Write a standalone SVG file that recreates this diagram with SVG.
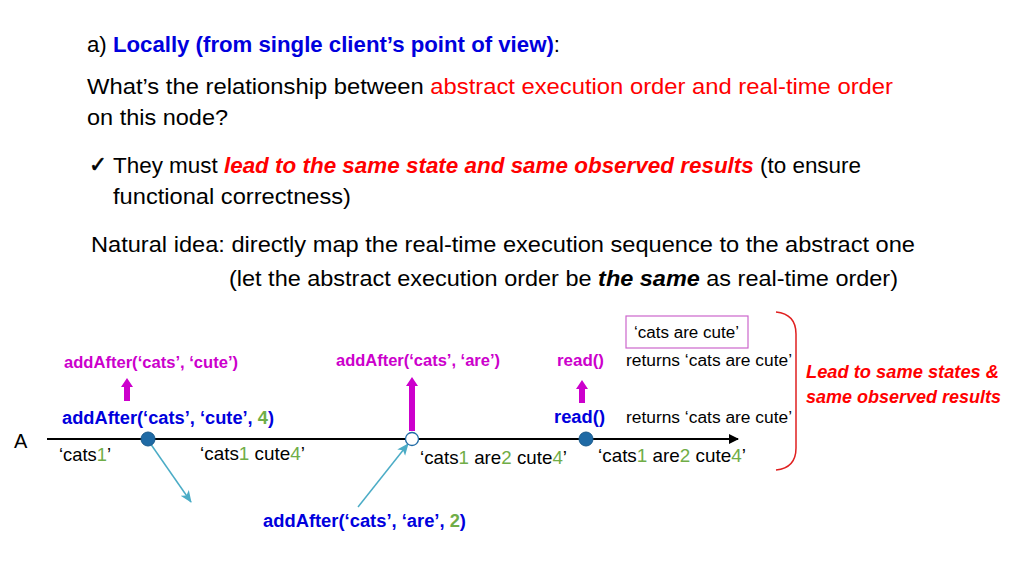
<svg xmlns="http://www.w3.org/2000/svg" width="1024" height="576" viewBox="0 0 1024 576">
<style>
text{font-family:"Liberation Sans",Arial,sans-serif;fill:#000}
.t{font-size:22px}
.b{font-weight:bold}
.bi{font-weight:bold;font-style:italic}
.blue{fill:#0000DD}
.red{fill:#FF0000}
.mag{fill:#CC00CC}
.grn{fill:#70AD47}
.s{font-size:16px}
.m{font-size:19px}
.cy{stroke:#4BACC6;stroke-width:1.5;fill:none}
</style>
<defs>
<marker id="ah" markerWidth="10" markerHeight="10" refX="9" refY="5" orient="auto" markerUnits="userSpaceOnUse">
<path d="M0,0 L10,5 L0,10 z" fill="#000"/>
</marker>
<marker id="cyah" markerWidth="12" markerHeight="12" refX="11" refY="6" orient="auto" markerUnits="userSpaceOnUse">
<path d="M0,1 L12,6 L0,11 L3,6 z" fill="#4BACC6"/>
</marker>
</defs>

<g id="header">
<text class="t" x="87" y="52" textLength="473" lengthAdjust="spacingAndGlyphs">a) <tspan class="b blue">Locally (from single client’s point of view)</tspan>:</text>
<text class="t" x="87" y="94" textLength="806" lengthAdjust="spacingAndGlyphs">What’s the relationship between <tspan class="red">abstract execution order and real-time order</tspan></text>
<text class="t" x="87" y="125" textLength="141" lengthAdjust="spacingAndGlyphs">on this node?</text>
<text x="89" y="172" style="font-family:'DejaVu Sans',sans-serif;font-size:22px;stroke:#000;stroke-width:0.6" textLength="18" lengthAdjust="spacingAndGlyphs">✓</text>
<text class="t" x="113" y="173" textLength="748" lengthAdjust="spacingAndGlyphs">They must <tspan class="bi red">lead to the same state and same observed results</tspan> (to ensure</text>
<text class="t" x="113" y="204" textLength="238" lengthAdjust="spacingAndGlyphs">functional correctness)</text>
<text class="t" x="91" y="252" textLength="824" lengthAdjust="spacingAndGlyphs">Natural idea: directly map the real-time execution sequence to the abstract one</text>
<text class="t" x="229" y="286" textLength="669" lengthAdjust="spacingAndGlyphs">(let the abstract execution order be <tspan class="bi">the same</tspan> as real-time order)</text>
</g>

<g id="connectors">
<line x1="47" y1="439" x2="738" y2="439" stroke="#000" stroke-width="2" marker-end="url(#ah)"/>
<line class="cy" x1="150" y1="443" x2="191" y2="502" marker-end="url(#cyah)"/>
<line class="cy" x1="358" y1="507" x2="408" y2="444" marker-end="url(#cyah)"/>
<path d="M127,378 L133,387 L130,387 L130,401 L124,401 L124,387 L121,387 z" fill="#CC00CC"/>
<path d="M412,377 L418,386 L415,386 L415,431 L409,431 L409,386 L406,386 z" fill="#CC00CC"/>
<path d="M582,380 L588,389 L585,389 L585,403 L579,403 L579,389 L576,389 z" fill="#CC00CC"/>
<path d="M776,312 Q796,314 796,334 L796,448 Q796,468 776,470" fill="none" stroke="#E02020" stroke-width="1.5"/>
</g>

<g id="axis-label"><text x="14" y="448" style="font-size:20px">A</text></g>

<g id="event-add-cute">
<circle cx="148" cy="439" r="7" fill="#1F6AA5" stroke="#1A5A8C" stroke-width="1"/>
<text class="b mag" x="64" y="368" style="font-size:16px" textLength="174" lengthAdjust="spacingAndGlyphs">addAfter(‘cats’, ‘cute’)</text>
<text class="b blue" x="62" y="424" style="font-size:18px" textLength="212" lengthAdjust="spacingAndGlyphs">addAfter(‘cats’, ‘cute’, <tspan class="grn">4</tspan>)</text>
</g>

<g id="event-add-are">
<circle cx="412" cy="439" r="6.5" fill="#fff" stroke="#1F6AA5" stroke-width="1.3"/>
<text class="b mag" x="336" y="366" style="font-size:16px" textLength="164" lengthAdjust="spacingAndGlyphs">addAfter(‘cats’, ‘are’)</text>
<text class="b blue" x="263" y="527" style="font-size:18px" textLength="203" lengthAdjust="spacingAndGlyphs">addAfter(‘cats’, ‘are’, <tspan class="grn">2</tspan>)</text>
</g>

<g id="event-read">
<circle cx="586" cy="439" r="7" fill="#1F6AA5" stroke="#1A5A8C" stroke-width="1"/>
<text class="b mag" x="557" y="366" style="font-size:16px" textLength="47" lengthAdjust="spacingAndGlyphs">read()</text>
<text class="b blue" x="554" y="423" style="font-size:18px" textLength="51" lengthAdjust="spacingAndGlyphs">read()</text>
<text class="s" x="626" y="366" textLength="166" lengthAdjust="spacingAndGlyphs">returns ‘cats are cute’</text>
<text class="s" x="626" y="423" textLength="166" lengthAdjust="spacingAndGlyphs">returns ‘cats are cute’</text>
</g>

<g id="state-box">
<rect x="626" y="316" width="122" height="32" fill="#fff" stroke="#CC66CC" stroke-width="1.2"/>
<text class="s" x="634" y="338" textLength="105" lengthAdjust="spacingAndGlyphs">‘cats are cute’</text>
</g>

<g id="states">
<text class="m" x="59" y="461" textLength="52" lengthAdjust="spacingAndGlyphs">‘cats<tspan class="grn">1</tspan>’</text>
<text class="m" x="200" y="460" textLength="105" lengthAdjust="spacingAndGlyphs">‘cats<tspan class="grn">1</tspan> cute<tspan class="grn">4</tspan>’</text>
<text class="m" x="420" y="464" textLength="147" lengthAdjust="spacingAndGlyphs">‘cats<tspan class="grn">1</tspan> are<tspan class="grn">2</tspan> cute<tspan class="grn">4</tspan>’</text>
<text class="m" x="598" y="462" textLength="148" lengthAdjust="spacingAndGlyphs">‘cats<tspan class="grn">1</tspan> are<tspan class="grn">2</tspan> cute<tspan class="grn">4</tspan>’</text>
</g>

<g id="conclusion">
<text class="bi red" x="806" y="378" style="font-size:18px" textLength="193" lengthAdjust="spacingAndGlyphs">Lead to same states &amp;</text>
<text class="bi red" x="806" y="403" style="font-size:18px" textLength="195" lengthAdjust="spacingAndGlyphs">same observed results</text>
</g>
</svg>
